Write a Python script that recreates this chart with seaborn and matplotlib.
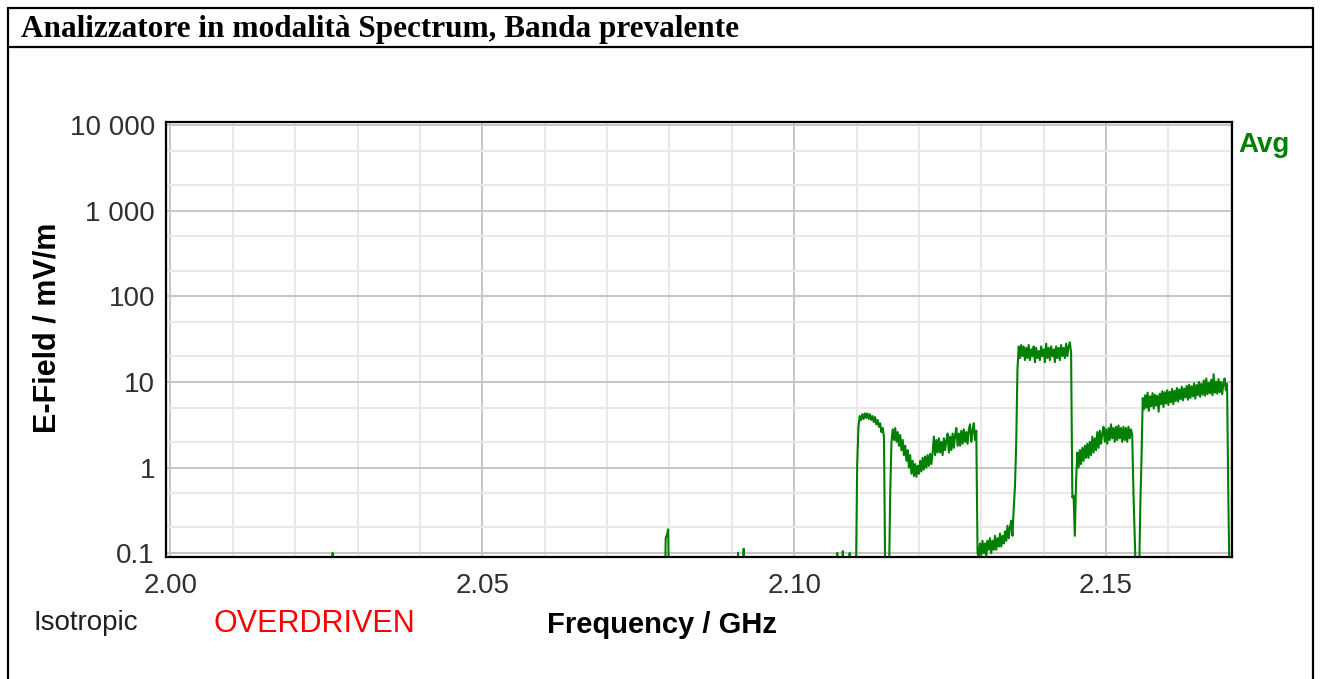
"""
Analizzatore in modalità Spectrum - banda prevalente (E-field vs frequency).
"""

import numpy as np
import pandas as pd
import matplotlib.pyplot as plt
import seaborn as sns
from matplotlib.lines import Line2D
from matplotlib.ticker import FixedLocator, MultipleLocator, LogLocator, NullFormatter


# --- isolated spikes below the bands (values under 0.09 are off-scale) ---
low_freq = [2.0000, 2.0259, 2.0260, 2.0261, 2.0793, 2.0794, 2.0796, 2.0798, 2.0799,
            2.0909, 2.0910, 2.0911, 2.0918, 2.0919, 2.0920, 2.1068, 2.1069, 2.1070,
            2.1077, 2.1078, 2.1079, 2.1088, 2.1089, 2.1090]
low_val = [0.05, 0.05, 0.101, 0.05, 0.05, 0.15, 0.165, 0.19, 0.05,
           0.05, 0.101, 0.05, 0.05, 0.113, 0.05, 0.05, 0.101, 0.05,
           0.05, 0.106, 0.05, 0.05, 0.101, 0.05]

# --- band traces (mV/m) ---
band_a_range = (2.1099, 2.1146)
band_a_val = [0.05, 1.1, 3.0, 4.0, 3.6, 4.2, 3.7, 4.3, 3.8, 4.3, 3.7, 4.2, 3.6, 4.0,
              3.4, 3.9, 3.2, 3.6, 3.0, 3.3, 2.6, 2.9, 2.3, 0.05]

band_b_range = (2.1152, 2.1292)
band_b_val = [0.05, 0.5, 2.0, 2.8, 2.1, 2.9, 2.0, 2.6, 1.8, 2.4,
              1.6, 2.1, 1.4, 1.8, 1.2, 1.6, 1.0, 1.4, 0.85, 1.2,
              0.8, 1.1, 0.78, 1.05, 0.85, 1.2, 0.9, 1.3, 0.95, 1.35,
              1.0, 1.4, 1.05, 1.45, 1.1, 1.5, 2.3, 1.4, 2.1, 1.5,
              2.2, 1.5, 2.0, 1.4, 2.2, 1.6, 2.1, 2.5, 1.5, 2.3,
              1.6, 2.5, 1.7, 2.4, 2.9, 1.8, 2.5, 1.8, 2.7, 1.9,
              2.8, 2.0, 2.6, 1.9, 2.8, 3.2, 2.0, 2.7, 3.3, 2.1, 2.7]

band_c_range = (2.1294, 2.1352)
band_c_val = [0.10, 0.09, 0.13, 0.095, 0.14, 0.10, 0.13, 0.09, 0.14, 0.11,
              0.15, 0.10, 0.14, 0.11, 0.16, 0.11, 0.15, 0.12, 0.17, 0.12,
              0.16, 0.13, 0.18, 0.14, 0.21, 0.15, 0.20, 0.24, 0.16, 0.33]

band_d_range = (2.1354, 2.1444)
band_d_val = [0.6, 1.9, 14, 26, 19, 27, 20, 26, 18, 25,
              19, 27, 18, 24, 20, 26, 17, 25, 19, 23,
              18, 26, 20, 24, 17, 28, 19, 25, 18, 26,
              20, 24, 17, 26, 19, 25, 18, 27, 20, 25,
              19, 28, 20, 26, 29, 22]

band_e_range = (2.1446, 2.1548)
band_e_val = [0.45, 0.47, 0.16, 0.7, 1.5, 1.0, 1.6, 1.1, 1.7, 1.2,
              1.8, 1.3, 1.9, 1.3, 2.0, 1.4, 2.3, 1.5, 2.2, 1.6,
              2.6, 1.7, 2.7, 1.9, 2.5, 3.0, 2.0, 2.8, 1.9, 2.9,
              2.1, 3.2, 2.2, 2.9, 2.0, 3.0, 2.1, 3.1, 2.2, 2.9,
              2.0, 3.0, 2.1, 2.9, 2.0, 3.0, 2.2, 2.8, 2.4, 0.5,
              0.15, 0.05]

band_f_range = (2.1553, 2.1698)
band_f_val = [0.05, 0.35, 1.3, 6.5, 4.8, 7.0, 5.0, 7.5, 4.6, 6.8,
              5.2, 7.4, 4.9, 7.1, 5.3, 6.9, 4.5, 7.3, 5.5, 7.8,
              5.1, 7.6, 5.6, 8.0, 5.4, 7.7, 5.8, 8.3, 5.5, 7.9,
              6.0, 8.5, 5.9, 8.2, 6.3, 8.8, 6.1, 8.4, 6.6, 9.0,
              6.2, 9.3, 6.5, 8.9, 6.8, 9.6, 6.4, 9.2, 7.0, 10.0,
              6.7, 9.5, 7.1, 10.4, 6.9, 11.0, 7.2, 9.8, 7.4, 10.6,
              7.0, 12.3, 7.5, 10.1, 7.3, 10.8, 7.6, 10.0, 7.2, 9.7,
              11.0, 8.0, 9.5, 0.5, 0.05]

x_ticks = [2.00, 2.05, 2.10, 2.15]
x_tick_labels = ["2.00", "2.05", "2.10", "2.15"]
y_ticks = [0.1, 1, 10, 100, 1000, 10000]
y_tick_labels = ["0.1", "1", "10", "100", "1 000", "10 000"]

TITLE = "Analizzatore in modalità Spectrum, Banda prevalente"
TRACE_COLOR = "#008000"

W, H = 1321, 679


def build_trace() -> pd.DataFrame:
    freqs = [np.asarray(low_freq)]
    vals = [np.asarray(low_val)]
    bands = [(band_a_range, band_a_val), (band_b_range, band_b_val),
             (band_c_range, band_c_val), (band_d_range, band_d_val),
             (band_e_range, band_e_val), (band_f_range, band_f_val)]
    for (f0, f1), v in bands:
        # analyzer samples are evenly spaced across each band
        freqs.append(np.linspace(f0, f1, len(v)))
        vals.append(np.asarray(v, dtype=float))
    return pd.DataFrame({"freq": np.concatenate(freqs), "efield": np.concatenate(vals)})


def px_x(x):
    return x / W


def px_y(y):
    return 1 - y / H


df = build_trace()

sns.set_style("white")
plt.rcParams["font.family"] = ["Liberation Sans", "DejaVu Sans"]

fig = plt.figure(figsize=(W / 100, H / 100), dpi=100)
ax = fig.add_axes([px_x(166), px_y(557.3), (1232 - 166) / W, (557.3 - 121.7) / H])

sns.lineplot(data=df, x="freq", y="efield", ax=ax, color=TRACE_COLOR, linewidth=1.5,
             estimator=None, sort=False)

ax.set_yscale("log")
ax.set_xlim(1.99928, 2.1702)
ax.set_ylim(10 ** -1.047, 10 ** 4.0386)

ax.xaxis.set_major_locator(FixedLocator(x_ticks))
ax.set_xticklabels(x_tick_labels)
ax.xaxis.set_minor_locator(MultipleLocator(0.01))
ax.yaxis.set_major_locator(FixedLocator(y_ticks))
ax.set_yticklabels(y_tick_labels)
ax.yaxis.set_minor_locator(LogLocator(base=10, subs=(2.0, 5.0)))
ax.yaxis.set_minor_formatter(NullFormatter())

ax.grid(which="minor", color="#ebe6eb", linewidth=1.4)
ax.grid(which="major", color="#c6c6c6", linewidth=1.4)
ax.set_axisbelow(True)

ax.tick_params(which="major", direction="out", length=7, width=1.3, color="black",
               labelsize=20, labelcolor="#303030")
ax.tick_params(axis="y", which="major", pad=1)
ax.tick_params(axis="x", which="major", pad=4)
ax.tick_params(which="minor", length=0)
for s in ax.spines.values():
    s.set_color("black")
    s.set_linewidth(1.6)

ax.set_xlabel("")
ax.set_ylabel("")

# axis titles and status texts
fig.text(px_x(48), px_y(328), "E-Field / mV/m", rotation=90, ha="center", va="center",
         fontsize=22, fontweight="bold", color="black")
fig.text(px_x(547), px_y(625), "Frequency / GHz", ha="left", va="center",
         fontsize=21, fontweight="bold", color="black")
fig.text(px_x(33), px_y(623), "Isotropic", ha="left", va="center", fontsize=20, color="#202020")
fig.text(px_x(213), px_y(624), "OVERDRIVEN", ha="left", va="center", fontsize=22, color="#ff0000")
fig.text(px_x(1238), px_y(145), "Avg", ha="left", va="center", fontsize=20,
         fontweight="bold", color=TRACE_COLOR)

# report frame + title row
fig.text(px_x(21), px_y(30), TITLE, ha="left", va="center", fontsize=22.5, fontweight="bold",
         family=["Liberation Serif", "DejaVu Serif"], color="black")
frame_kw = dict(transform=fig.transFigure, color="black", linewidth=1.6)
fig.add_artist(Line2D([px_x(8), px_x(1313)], [px_y(8), px_y(8)], **frame_kw))
fig.add_artist(Line2D([px_x(8), px_x(1313)], [px_y(47), px_y(47)], **frame_kw))
fig.add_artist(Line2D([px_x(8), px_x(8)], [px_y(8), 0], **frame_kw))
fig.add_artist(Line2D([px_x(1313), px_x(1313)], [px_y(8), 0], **frame_kw))

fig.savefig("out.png", dpi=100)
